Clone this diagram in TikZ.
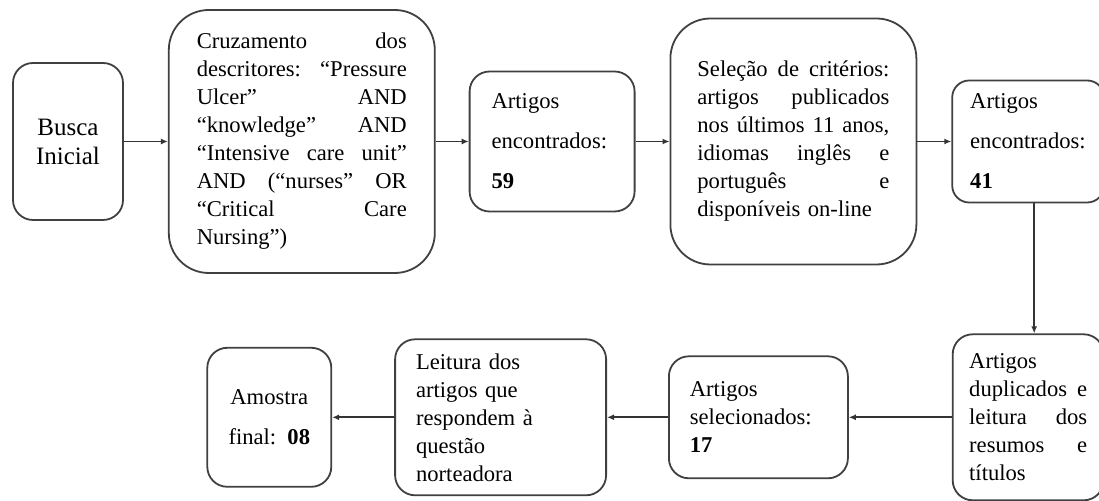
\documentclass[tikz,border=0pt]{standalone}
\usepackage{fontspec}
\setmainfont{Liberation Serif}
\usetikzlibrary{positioning,arrows.meta}

\begin{document}
\begin{tikzpicture}[
    etapa/.style={draw=black!75, line width=0.9pt, rounded corners=10pt, align=left,
        inner ysep=0pt, font=\fontsize{11.3}{14}\selectfont},
    espacado/.style={font=\fontsize{11.3}{20}\selectfont},
    seta/.style={draw=black!80, line width=0.85pt, -{Latex[length=3.5pt,width=3pt]}}
  ]
    \useasboundingbox (0,0) rectangle (549.5pt,-250.5pt);

    \node[etapa, align=center, font=\fontsize{12.5}{14.5}\selectfont, minimum width=55pt, minimum height=78.5pt] (busca) at (34pt,-70.75pt) {Busca\\Inicial};
    \node[etapa, rounded corners=20pt, text width=105pt, inner xsep=14pt, minimum height=131.5pt, right=22pt of busca] (cruzamento)
        {Cruzamento \hfill dos\\ descritores: \hfill “Pressure\\ Ulcer” \hfill AND\\ “knowledge” \hfill AND\\
         “Intensive \hfill care \hfill unit”\\ AND \hfill (“nurses” \hfill OR\\ “Critical \hfill Care\hspace*{8pt}\\ Nursing”)};
    \node[etapa, espacado, text width=60.5pt, inner xsep=11pt, minimum height=70pt, right=16.5pt of cruzamento] (encontrados1)
        {Artigos\\encontrados:\\\textbf{59}};
    \node[etapa, rounded corners=20pt, text width=96pt, inner xsep=13.5pt, minimum height=123pt, right=17pt of encontrados1] (selecao)
        {Seleção \hfill de \hfill critérios:\\ artigos \hfill publicados\\ nos \hfill últimos \hfill 11 \hfill anos,\\
         idiomas \hfill inglês \hfill e\\ português \hfill e\\ disponíveis on-line};
    \node[etapa, espacado, rounded corners=8.5pt, text width=58pt, inner xsep=9pt, minimum height=61pt, right=17pt of selecao] (encontrados2)
        {Artigos\\encontrados:\\\textbf{41}};

    \node[etapa, text width=59pt, inner xsep=8.25pt, minimum height=83pt, below=65pt of encontrados2] (duplicados)
        {Artigos\\ duplicados \hfill e\\ leitura \hfill dos\\ resumos \hfill e\\ títulos};
    \node[etapa, text width=68.5pt, inner xsep=10.5pt, minimum height=61pt, left=51.5pt of duplicados] (selecionados)
        {Artigos\\selecionados:\\\textbf{17}};
    \node[etapa, text width=84.5pt, inner xsep=10.5pt, minimum height=78pt, left=30.5pt of selecionados] (leitura)
        {Leitura dos\\artigos que\\respondem à\\questão\\norteadora};
    \node[etapa, espacado, align=center, text width=41pt, inner xsep=10.5pt, minimum height=69.5pt, left=31pt of leitura] (amostra)
        {Amostra\\final: \textbf{08}};

    \draw[seta] (busca) -- (cruzamento);
    \draw[seta] (cruzamento.east |- encontrados1) -- (encontrados1);
    \draw[seta] (encontrados1) -- (selecao);
    \draw[seta] (selecao) -- (encontrados2);
    \draw[seta] ([xshift=3pt]encontrados2.south) -- ([xshift=3pt]duplicados.north);
    \draw[seta] (duplicados) -- (selecionados);
    \draw[seta] (selecionados) -- (leitura);
    \draw[seta] (leitura) -- (amostra);
\end{tikzpicture}
\end{document}
